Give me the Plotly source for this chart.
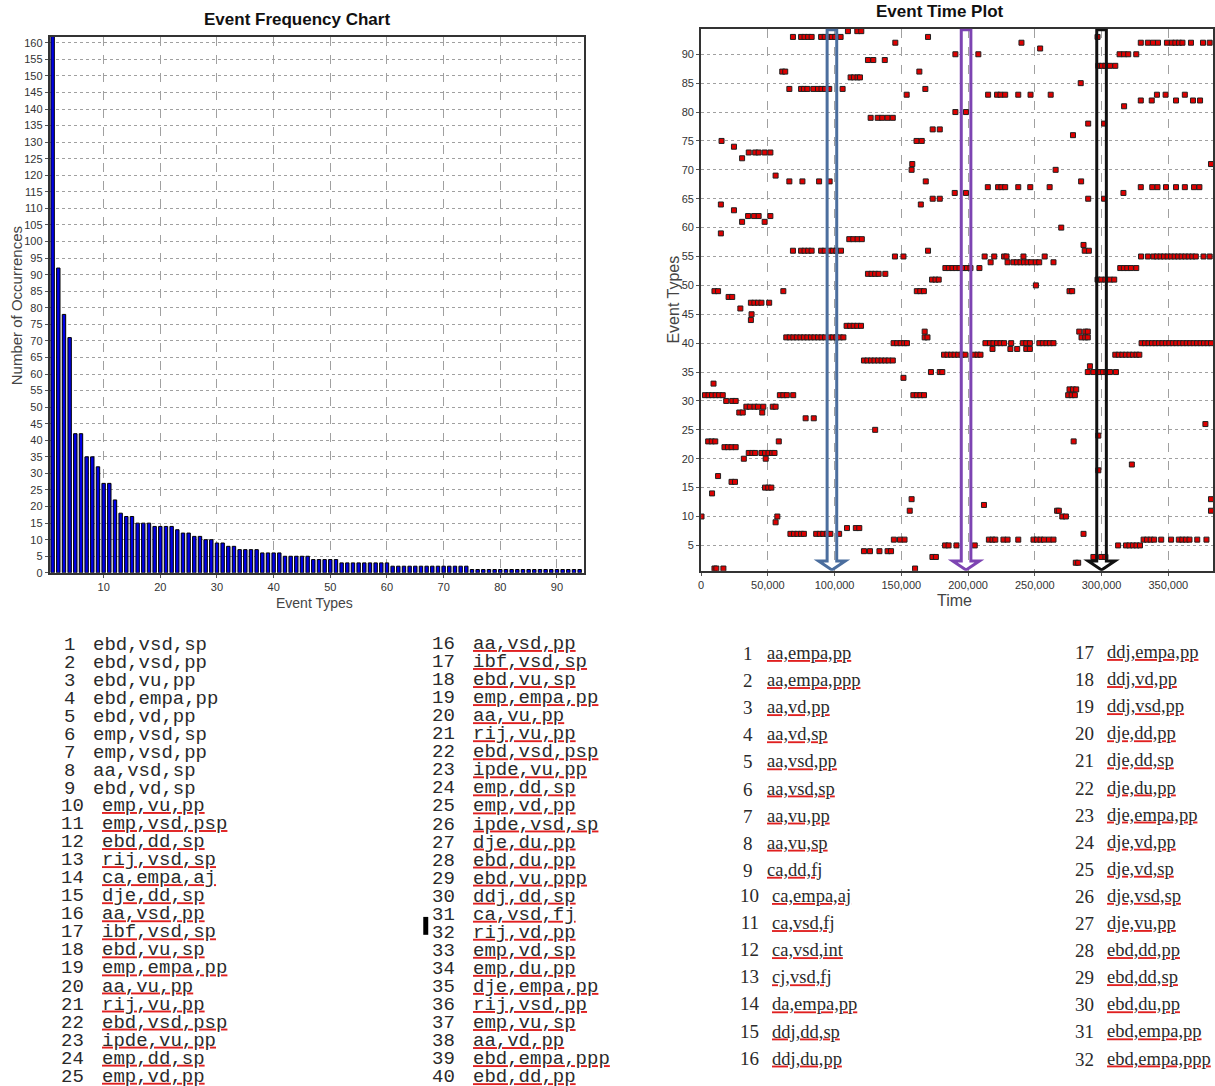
import plotly.graph_objects as go

W, H = 1215, 1086

# ---------------- data: Event Frequency Chart ----------------
freq_event_types = list(range(1, 95))
freq_counts = [162, 92, 78, 71, 42, 42, 35, 35, 32, 27, 27, 22, 18, 17, 17, 15, 15, 15, 14, 14,
               14, 14, 13, 12, 12, 11, 11, 10, 10, 9, 9, 8, 8, 7, 7, 7, 7, 6, 6, 6,
               6, 5, 5, 5, 5, 5, 4, 4, 4, 4, 4, 3, 3, 3, 3, 3, 3, 3, 3, 3,
               2, 2, 2, 2, 2, 2, 2, 2, 2, 2, 2, 2, 2, 2, 1, 1, 1, 1, 1, 1,
               1, 1, 1, 1, 1, 1, 1, 1, 1, 1, 1, 1, 1, 1]

# ---------------- data: Event Time Plot (time in thousands) ----------------
row_types = [94, 93, 92, 91, 90, 89, 88, 87, 86, 85, 84, 83, 82, 81, 80, 79, 78, 77, 76, 75,
             74, 73, 72, 71, 70, 69, 68, 67, 66, 65, 64, 63, 62, 61, 60, 59, 58, 57, 56, 55,
             54, 53, 52, 51, 50, 49, 48, 47, 46, 45, 44, 43, 42, 41, 40, 39, 38, 37, 36, 35,
             34, 33, 32, 31, 30, 29, 28, 27, 26, 25, 24, 23, 22, 21, 20, 19, 18, 17, 16, 15,
             14, 13, 12, 11, 10, 9, 8, 7, 6, 5, 4, 3, 2, 1]
row_times_k = [
    [110, 117, 120],
    [68.8, 74.9, 77.5, 80.2, 82.8, 89.9, 92.6, 95.2, 97.9, 100.5, 104.5, 170, 297],
    [145.5, 240, 329.4, 334.7, 338.6, 342.3, 349, 352.6, 355.3, 358, 360.6, 367, 376, 381],
    [254],
    [190.5, 207.7, 313.5, 316.9, 320, 326],
    [125, 129, 137.6],
    [297.6, 300.3, 302.9, 306.3, 310.3],
    [60.8, 63, 163.5],
    [112, 114.5, 117.2, 119],
    [284.4],
    [66.1, 74.9, 77, 79.6, 84.1, 87.6, 90.2, 92.9, 96, 106, 168],
    [154, 215, 221.7, 224.3, 227.8, 237.6, 246.8, 261.9, 341.5, 348, 362.4],
    [329.4, 337.6, 355.8, 368.5, 373.8],
    [316.9],
    [190.5, 198.4],
    [127, 132.3, 135.7, 139.7, 143.6],
    [290, 301.9],
    [173.5, 178.8],
    [278.6],
    [15.3, 161.4, 165.3],
    [24.6],
    [35.7, 40.5, 43.1, 47.6, 51.9],
    [30.7],
    [158.2, 382],
    [157.7, 265.6],
    [55.8],
    [66.1, 75.9, 88.4, 96.3, 168.3, 284.7],
    [214.8, 222.5, 225, 227.8, 237.6, 246.6, 261.1, 329.4, 338, 341.9, 348.3, 355.8, 362.4, 369.3, 373.3],
    [190, 198.4, 316.4],
    [173.5, 178.8, 290, 301.9],
    [14.8, 164.6],
    [24.6],
    [35.2, 39.7, 43.1, 51.9],
    [30.7, 47.6],
    [269.8],
    [14.8],
    [111, 114, 117.2, 120.4],
    [286.5],
    [68.8, 74.9, 77.5, 80.2, 82.8, 89.9, 92.6, 96, 98.7, 101.3, 104.8, 170, 287.4, 290.5],
    [145.2, 151.6, 212.4, 219.6, 227, 228.8, 241.5, 257.4, 329.6, 334.7, 338.9, 341.5, 344.2, 346.8,
     349.5, 352.1, 354.8, 357.4, 360, 362.7, 365.3, 368, 370.6, 376.4, 381],
    [216.9, 229.6, 234, 236.6, 239.3, 241.9, 244.6, 247.2, 250.7, 253.3, 264],
    [183, 185.6, 188.3, 190.9, 193.6, 196.6, 199.2, 201.8, 208.5, 314, 316.7, 319.3, 322, 326],
    [125, 127.7, 130.4, 133, 138],
    [173, 175.6, 178, 297, 299.7, 302.9, 306.3, 309.5],
    [250.8],
    [10, 12.7, 61.6, 161.6, 164.2, 166.9, 276, 278],
    [20.6, 23.3],
    [37.3, 39.9, 42.6, 45.2, 51],
    [29.4],
    [37.8],
    [37.3],
    [109, 111.7, 114.3, 117, 119.8],
    [167.5, 283.3, 287.8, 289.7],
    [63.8, 66.4, 69.1, 71.7, 74.4, 77, 79.6, 82.3, 84.9, 87.6, 90.2, 92.9, 96, 98.7, 101.3, 104, 106.6,
     167.5, 169.6, 285, 287.8, 289.7],
    [144.2, 146.9, 149.5, 152.2, 154.2, 213, 216.4, 219, 221.7, 224.3, 227, 232.3, 241, 243.6, 246.3,
     253.4, 256, 258.7, 261.3, 264, 330, 332.6, 335.2, 337.8, 340.4, 343, 345.6, 348.2, 350.8, 353.4,
     356, 358.6, 361.2, 363.8, 366.4, 369, 371.6, 374.2, 376.8, 379.4, 382],
    [218.3, 231.7, 236.8, 243.6, 246.3],
    [182, 184.6, 187.3, 189.9, 192.6, 195.2, 197.9, 204.5, 207.1, 209.3, 310.3, 312.9, 315.6, 318.2,
     320.9, 323.5, 326.2, 328.3],
    [122, 124.6, 127.3, 129.9, 132.6, 135.2, 137.9, 140.5, 143.6],
    [291.3],
    [172.2, 178.8, 180.7, 289.7, 293.9, 298.4, 301, 303.7, 306.3, 310.8],
    [151.6],
    [9.3],
    [276, 278.6, 281],
    [2.9, 5.6, 8.2, 10.9, 13.5, 16.2, 59, 61.6, 64.2, 69, 159, 161.6, 164.3, 167, 275, 277.6, 280],
    [18.8, 23.3, 25.9],
    [33.9, 36.5, 40, 42.6, 46.6, 53.7, 55.8],
    [28.6, 31.2, 45.8],
    [78.3, 84.4],
    [377.8],
    [130.4],
    [297.6],
    [5.3, 8, 10.6, 58.2, 279.1],
    [17.5, 20.1, 22.8, 25.9],
    [35.7, 38.4, 40.5, 45.2, 47.9, 50.5, 53.2, 55],
    [32, 48.4],
    [322.7],
    [297.6],
    [12.7],
    [22.8, 25.4],
    [47.9, 50.3, 52.6],
    [8.2],
    [157.7, 382],
    [211.9],
    [156.3, 266.7, 268, 382],
    [0.3, 57.1, 270.6, 273.3],
    [55.8],
    [109.3, 115.9, 118.5],
    [66.9, 69.6, 72.2, 74.9, 77, 86.2, 88.9, 91.5, 94.2, 96.8, 103.4, 286.5],
    [144.4, 149, 152.4, 215.6, 218.3, 220.4, 226.5, 229.6, 237.6, 249, 251.6, 254.3, 256.9, 260.6, 264,
     331.5, 334.1, 336.8, 339.4, 344.7, 352.1, 357.9, 360.5, 363.2, 365.9, 371.7, 378.6],
    [182.8, 185.4, 191.3, 205, 312.4, 318.3, 320.9, 323.6, 326.2, 328.8],
    [122, 126.5, 133.6, 139.7, 142.3],
    [173.3, 175.9, 293.9, 299.7, 302.9],
    [280.7, 282.5],
    [10, 11.4, 16.7, 160.3],
]
arrow_times = [98000, 198500, 300000]
arrow_colors = ["#4b6e9e", "#7d44b2", "#111111"]

x_ticks_time = [0, 50000, 100000, 150000, 200000, 250000, 300000, 350000]

# ---------------- data: event type lists ----------------
list_a_labels = ["ebd,vsd,sp", "ebd,vsd,pp", "ebd,vu,pp", "ebd,empa,pp", "ebd,vd,pp", "emp,vsd,sp",
                 "emp,vsd,pp", "aa,vsd,sp", "ebd,vd,sp", "emp,vu,pp", "emp,vsd,psp", "ebd,dd,sp",
                 "rij,vsd,sp", "ca,empa,aj", "dje,dd,sp", "aa,vsd,pp", "ibf,vsd,sp", "ebd,vu,sp",
                 "emp,empa,pp", "aa,vu,pp", "rij,vu,pp", "ebd,vsd,psp", "ipde,vu,pp", "emp,dd,sp",
                 "emp,vd,pp"]
list_b_labels = ["aa,vsd,pp", "ibf,vsd,sp", "ebd,vu,sp", "emp,empa,pp", "aa,vu,pp", "rij,vu,pp",
                 "ebd,vsd,psp", "ipde,vu,pp", "emp,dd,sp", "emp,vd,pp", "ipde,vsd,sp", "dje,du,pp",
                 "ebd,du,pp", "ebd,vu,ppp", "ddj,dd,sp", "ca,vsd,fj", "rij,vd,pp", "emp,vd,sp",
                 "emp,du,pp", "dje,empa,pp", "rij,vsd,pp", "emp,vu,sp", "aa,vd,pp", "ebd,empa,ppp",
                 "ebd,dd,pp"]
list_c_labels = ["aa,empa,pp", "aa,empa,ppp", "aa,vd,pp", "aa,vd,sp", "aa,vsd,pp", "aa,vsd,sp",
                 "aa,vu,pp", "aa,vu,sp", "ca,dd,fj", "ca,empa,aj", "ca,vsd,fj", "ca,vsd,int",
                 "cj,vsd,fj", "da,empa,pp", "ddj,dd,sp", "ddj,du,pp", "ddj,empa,pp", "ddj,vd,pp",
                 "ddj,vsd,pp", "dje,dd,pp", "dje,dd,sp", "dje,du,pp", "dje,empa,pp", "dje,vd,pp",
                 "dje,vd,sp", "dje,vsd,sp", "dje,vu,pp", "ebd,dd,pp", "ebd,dd,sp", "ebd,du,pp",
                 "ebd,empa,pp", "ebd,empa,ppp"]

# ---------------- build figure ----------------
def px_x(p):
    return p / W

def px_y(p):
    return 1 - p / H

fig = go.Figure()

fig.add_trace(go.Bar(
    x=freq_event_types, y=freq_counts, width=0.6,
    marker=dict(color="#0000e6", line=dict(color="#000000", width=1)),
    xaxis="x", yaxis="y", showlegend=False))

times, types = [], []
for t, row in zip(row_types, row_times_k):
    for v in row:
        times.append(v * 1000)
        types.append(t)

fig.add_trace(go.Scatter(
    x=times, y=types, mode="markers",
    marker=dict(symbol="square", size=5, color="#e00000", line=dict(color="#202020", width=1)),
    xaxis="x2", yaxis="y2", showlegend=False))

tick_font = dict(family="Liberation Sans Narrow, Liberation Sans, Arial", size=11, color="#333333")
grid_common = dict(showgrid=True, gridcolor="#a0a0a0", gridwidth=1, showline=True, mirror=True,
                   linecolor="#333333", linewidth=2, ticks="outside", ticklen=3, tickcolor="#555555",
                   tickfont=tick_font, zeroline=False)

fig.update_layout(
    width=W, height=H, margin=dict(l=0, r=0, t=0, b=0),
    paper_bgcolor="white", plot_bgcolor="white",
    xaxis=dict(domain=[px_x(47), px_x(583)], range=[0.5, 94.7], tickvals=[10, 20, 30, 40, 50, 60, 70, 80, 90],
               griddash="dash", anchor="y", **grid_common),
    yaxis=dict(domain=[px_y(576), px_y(37)], range=[0, 161.8], dtick=5, tick0=0,
               griddash="dot", anchor="x", **grid_common),
    xaxis2=dict(domain=[px_x(701), 1.0], range=[0, 383500], tickvals=x_ticks_time, tickformat=",",
                griddash="dash", anchor="y2", **grid_common),
    yaxis2=dict(domain=[px_y(574), px_y(29)], range=[0.6, 94.4], dtick=5, tick0=0,
                griddash="dot", anchor="x2", **grid_common),
)

# arrows (hollow double-line arrows) built from arrow_times
shaft_half = 3600
head_half = 10000
y_top, y_base, y_tip = 94.25, 2.3, 0.75
for t, c in zip(arrow_times, arrow_colors):
    path = (f"M {t - shaft_half},{y_top} L {t - shaft_half},{y_base} L {t - head_half},{y_base} "
            f"L {t},{y_tip} L {t + head_half},{y_base} L {t + shaft_half},{y_base} "
            f"L {t + shaft_half},{y_top} Z")
    fig.add_shape(type="path", path=path, xref="x2", yref="y2",
                  line=dict(color=c, width=3), fillcolor="rgba(0,0,0,0)")

ann = []
title_font = dict(family="Liberation Sans Narrow, Liberation Sans, Arial", size=17, color="#111111")
ann.append(dict(text="<b>Event Frequency Chart</b>", x=px_x(295), y=px_y(20), font=title_font))
ann.append(dict(text="<b>Event Time Plot</b>", x=px_x(941), y=px_y(12), font=title_font))
ann.append(dict(text="Number of Occurrences", x=px_x(13), y=px_y(307), textangle=-90,
                font=dict(family="Liberation Sans, Arial", size=15, color="#444444")))
ann.append(dict(text="Event Types", x=px_x(313), y=px_y(606),
                font=dict(family="Liberation Sans, Arial", size=14, color="#444444")))
ann.append(dict(text="Event Types", x=px_x(673), y=px_y(301), textangle=-90,
                font=dict(family="Liberation Sans, Arial", size=16, color="#444444")))
ann.append(dict(text="Time", x=px_x(955), y=px_y(604),
                font=dict(family="Liberation Sans, Arial", size=16, color="#444444")))

MONO = "Courier New, Liberation Mono, monospace"
SERIF = "Times New Roman, Liberation Serif, serif"
TEXT_COL = "#2a2a2a"
WAVY_COL = "#e02020"


def line_html(s, size, underline):
    inner = f'<span style="font-size:{size}px;color:{TEXT_COL}">{s}</span>'
    if underline:
        return (f'<span style="font-size:{size}px;color:{WAVY_COL};'
                f'text-decoration:underline wavy;text-decoration-color:{WAVY_COL}">{inner}</span>')
    return inner


def block(items, size, underline, x, xanchor, y_first, spacing, family):
    lines = [line_html(s, size, underline) for s in items]
    n = len(items)
    y_mid = y_first + spacing * (n - 1) / 2
    ann.append(dict(text="<br>".join(lines), x=px_x(x), y=px_y(y_mid), xanchor=xanchor,
                    align=xanchor, yanchor="middle",
                    font=dict(family=family, size=spacing / 1.3, color=TEXT_COL)))


SP_AB = 18.05
SP_CD = 27.1
A0 = 648.5   # first row of left lists
C0 = 657.5   # first row of right lists
# column A (1-25)
nums_a = [str(i + 1) for i in range(len(list_a_labels))]
block(nums_a[:9], 19, False, 74, "right", A0, SP_AB, MONO)
block(nums_a[9:], 19, False, 83, "right", A0 + 9 * SP_AB, SP_AB, MONO)
block(list_a_labels[:9], 19, False, 88, "left", A0, SP_AB, MONO)
block(list_a_labels[9:], 19, True, 97, "left", A0 + 9 * SP_AB, SP_AB, MONO)
# column B (16-40)
nums_b = [str(i + 16) for i in range(len(list_b_labels))]
block(nums_b, 19, False, 456, "right", A0, SP_AB, MONO)
block(list_b_labels, 19, True, 470, "left", A0, SP_AB, MONO)
# cursor bar before 32
fig.add_shape(type="rect", xref="paper", yref="paper", x0=px_x(422), x1=px_x(427),
              y0=px_y(940), y1=px_y(922), fillcolor="#000000", line=dict(width=0))
# column C (1-16) and D (17-32)
nums_c = [str(i + 1) for i in range(len(list_c_labels))]
block(nums_c[:9], 19, False, 755, "right", C0, SP_CD, SERIF)
block(nums_c[9:16], 19, False, 762, "right", C0 + 9 * SP_CD, SP_CD, SERIF)
block(list_c_labels[:9], 18.5, True, 765, "left", C0, SP_CD, SERIF)
block(list_c_labels[9:16], 18.5, True, 770, "left", C0 + 9 * SP_CD, SP_CD, SERIF)
block(nums_c[16:], 19, False, 1099, "right", C0, SP_CD, SERIF)
block(list_c_labels[16:], 18.5, True, 1107, "left", C0, SP_CD, SERIF)

for a in ann:
    a.setdefault("xref", "paper")
    a.setdefault("yref", "paper")
    a.setdefault("showarrow", False)
    a.setdefault("xanchor", "center")
    a.setdefault("yanchor", "middle")
fig.update_layout(annotations=ann)

fig.write_html("out.html", config={"displayModeBar": False},
               post_script="document.body.style.margin='0px';")
